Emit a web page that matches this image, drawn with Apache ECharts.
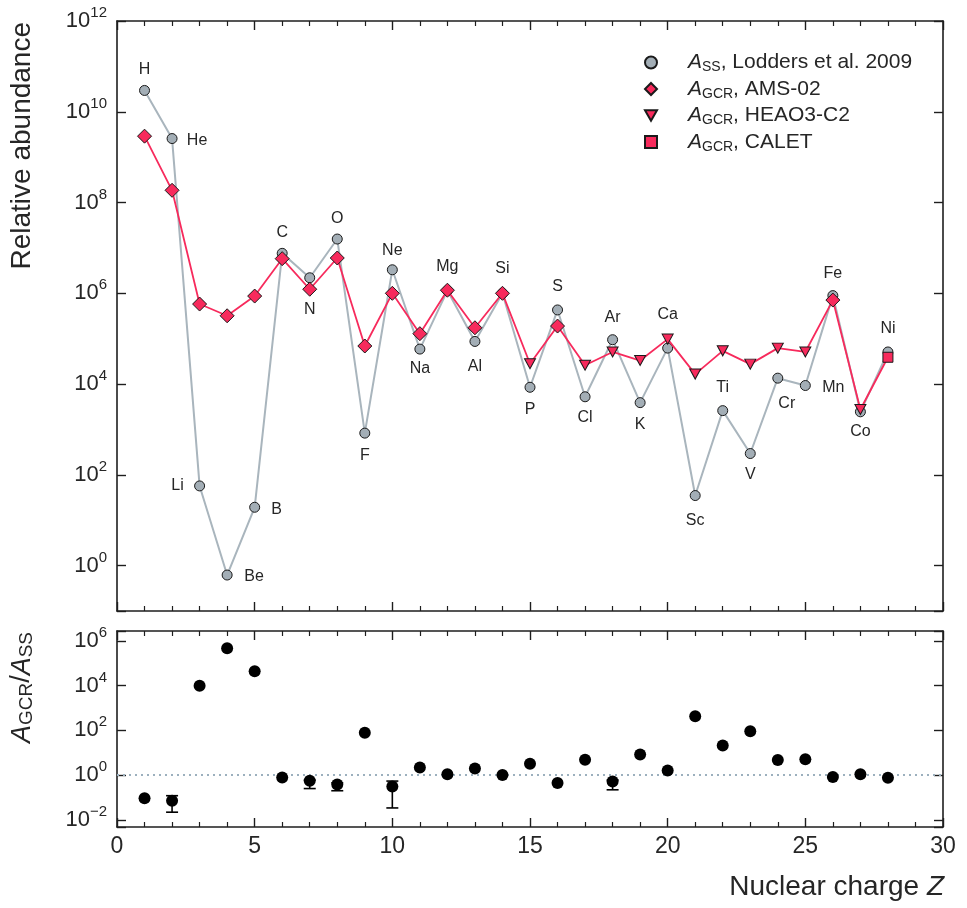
<!DOCTYPE html>
<html><head><meta charset="utf-8">
<script src="https://cdn.jsdelivr.net/npm/echarts@6/dist/echarts.min.js"></script>
<style>html,body{margin:0;padding:0;background:#fff}#c{width:967px;height:908px}</style>
</head><body><div id="c"></div><script>
// ---------------- data ----------------
const Z = [1,2,3,4,5,6,7,8,9,10,11,12,13,14,15,16,17,18,19,20,21,22,23,24,25,26,27,28];
const elements = ['H','He','Li','Be','B','C','N','O','F','Ne','Na','Mg','Al','Si','P','S','Cl','Ar','K','Ca','Sc','Ti','V','Cr','Mn','Fe','Co','Ni'];
// Solar-system abundances (Lodders et al. 2009), Si = 1e6
const ssAbundance = [2.95e10, 2.57e9, 57, 0.62, 19.3, 7.6e6, 2.2e6, 1.57e7, 830, 3.3e6, 5.9e4, 1.15e6, 8.7e4, 1.0e6,
  8.5e3, 4.3e5, 5.25e3, 9.5e4, 3.9e3, 6.2e4, 35, 2.6e3, 295, 1.35e4, 9.3e3, 8.9e5, 2.45e3, 5.1e4];
// Galactic cosmic ray abundances
const gcrAbundance = [2.9e9, 1.86e8, 5.8e5, 3.2e5, 8.7e5, 5.8e6, 1.23e6, 6.0e6, 6.9e4, 1.0e6, 1.29e5, 1.17e6, 1.74e5, 1.0e6,
  2.8e4, 1.9e5, 2.6e4, 5.1e4, 3.3e4, 9.8e4, 1.66e4, 5.4e4, 2.75e4, 6.2e4, 5.1e4, 7.1e5, 2.75e3, 3.9e4];
const amsZ = [1,2,3,4,5,6,7,8,9,10,11,12,13,14,16,26];
const heaoZ = [15,17,18,19,20,21,22,23,24,25,27];
const caletZ = [28];
// Ratio A_GCR / A_SS
const ratio = [0.093, 0.071, 9800, 4.7e5, 4.4e4, 0.78, 0.56, 0.38, 79, 0.31, 2.2, 1.1, 1.95, 1.0,
  3.2, 0.44, 4.8, 0.52, 8.3, 1.6, 430, 21, 91, 4.7, 5.1, 0.83, 1.1, 0.76];
const errZ = [2, 7, 8, 10, 18];
const errLow = [0.022, 0.25, 0.20, 0.034, 0.22];
const errHigh = [0.12, 0.6, 0.45, 0.54, 0.6];

// ---------------- style ----------------
const FONT = 'Liberation Sans, Arial, sans-serif';
const TXT = '#262626';
const AX = '#1e1e1e';
const GRAY = '#a3aeb6';
const GRAY_LINE = '#a9b5bd';
const RED = '#f72a5c';
const labelOffsets = [[0,-21],[25,2],[-22,0],[27,2],[22,2],[0,-21],[0,32],[0,-20],[0,22],[0,-19],[0,20],[0,-24],[0,25],[0,-25],
  [0,22],[0,-23],[0,21],[0,-22],[0,22],[0,-34],[0,25],[0,-23],[0,21],[9,25],[28,2],[0,-22],[0,20],[0,-23]];
const TRI_DOWN = 'path://M0,0 L10,0 L5,8.66 Z';

const SS_NAME = 'A_SS, Lodders et al. 2009';
const AMS_NAME = 'A_GCR, AMS-02';
const HEAO_NAME = 'A_GCR, HEAO3-C2';
const CALET_NAME = 'A_GCR, CALET';

function expLabel(v) {
  const l = Math.log10(v); const e = Math.round(l);
  if (Math.abs(l - e) > 1e-6 || e % 2 !== 0) return '';
  return '{b|10}{s|' + (e < 0 ? '\u2212' + (-e) : e) + '}';
}
const labelRich = {
  b: {fontSize: 22, fontFamily: FONT, color: TXT},
  s: {fontSize: 15, fontFamily: FONT, color: TXT, padding: [0,0,16,0]}
};
const lineSt = {color: AX, width: 1.6};
function xAx(grid, pos, labels) {
  return {type: 'value', gridIndex: grid, position: pos, min: 0, max: 30, interval: 5,
    axisLine: {show: true, onZero: false, lineStyle: lineSt},
    axisTick: {show: true, inside: true, length: 9, lineStyle: {color: AX, width: 1.4}},
    minorTick: {show: true, splitNumber: 5, length: 5, lineStyle: {color: AX, width: 1.2}},
    splitLine: {show: false}, minorSplitLine: {show: false},
    axisLabel: {show: labels, margin: 8, fontSize: 23, fontFamily: FONT, color: TXT}};
}
function yAx(grid, pos, min, max, labels) {
  return {type: 'log', logBase: 100, gridIndex: grid, position: pos, min: min, max: max,
    axisLine: {show: true, onZero: false, lineStyle: lineSt},
    axisTick: {show: true, inside: true, length: 9, lineStyle: {color: AX, width: 1.4}},
    minorTick: {show: false}, splitLine: {show: false},
    axisLabel: {show: labels, margin: 10, formatter: expLabel, rich: labelRich}};
}
function legendFmt(name) {
  const i = name.indexOf(',');
  const sub = name.slice(2, i);
  return '{i|A}{u|' + sub + '}{t|' + name.slice(i) + '}';
}
function renderErr(params, api) {
  const x = api.value(0);
  const lo = api.coord([x, api.value(1)]);
  const hi = api.coord([x, api.value(2)]);
  const hw = 6;
  const st = {stroke: '#000', lineWidth: 1.6};
  return {type: 'group', children: [
    {type: 'line', shape: {x1: lo[0], y1: lo[1], x2: hi[0], y2: hi[1]}, style: st},
    {type: 'line', shape: {x1: lo[0]-hw, y1: lo[1], x2: lo[0]+hw, y2: lo[1]}, style: st},
    {type: 'line', shape: {x1: hi[0]-hw, y1: hi[1], x2: hi[0]+hw, y2: hi[1]}, style: st}
  ]};
}

const chart = echarts.init(document.getElementById('c'));
chart.setOption({
  animation: false,
  backgroundColor: '#fff',
  textStyle: {fontFamily: FONT},
  grid: [
    {left: 117, right: 24, top: 21, height: 590},
    {left: 117, right: 24, top: 631, height: 196}
  ],
  xAxis: [xAx(0, 'bottom', false), xAx(0, 'top', false), xAx(1, 'bottom', true), xAx(1, 'top', false)],
  yAxis: [
    yAx(0, 'left', 0.1, 1e12, true), yAx(0, 'right', 0.1, 1e12, false),
    yAx(1, 'left', Math.pow(10, -2.32), Math.pow(10, 6.44), true), yAx(1, 'right', Math.pow(10, -2.32), Math.pow(10, 6.44), false)
  ],
  legend: {
    data: [{name: SS_NAME, icon: 'circle'}, {name: AMS_NAME}, {name: HEAO_NAME, icon: TRI_DOWN}, {name: CALET_NAME}],
    orient: 'vertical', left: 644, top: 52, itemWidth: 12, itemHeight: 12, itemGap: 4, padding: 0,
    selectedMode: false, formatter: legendFmt,
    textStyle: {color: TXT, fontFamily: FONT, fontSize: 21, padding: [0,0,0,26],
      rich: {
        i: {fontSize: 21, fontStyle: 'italic', fontFamily: FONT, color: TXT},
        u: {fontSize: 14, fontFamily: FONT, color: TXT, padding: [10,0,0,0]},
        t: {fontSize: 21, fontFamily: FONT, color: TXT}
      }}
  },
  graphic: [
    {type: 'text', x: 22, y: 22, rotation: Math.PI / 2,
      style: {text: 'Relative abundance', fontSize: 28, fontFamily: FONT, fill: TXT, align: 'right', textAlign: 'right', verticalAlign: 'middle', textVerticalAlign: 'middle'}},
    {type: 'text', x: 22, y: 632, rotation: Math.PI / 2,
      style: {text: '{a|A}{s|GCR}{n|/}{a|A}{s|SS}', fill: TXT, align: 'right', textAlign: 'right', verticalAlign: 'middle', textVerticalAlign: 'middle',
        rich: {a: {fontSize: 27, fontStyle: 'italic', fontFamily: FONT, color: TXT},
               n: {fontSize: 27, fontFamily: FONT, color: TXT},
               s: {fontSize: 19, fontFamily: FONT, color: TXT, padding: [10,0,0,0]}}}},
    {type: 'text', x: 944, y: 887,
      style: {text: '{t|Nuclear charge }{i|Z}', fill: TXT, align: 'right', textAlign: 'right', verticalAlign: 'middle', textVerticalAlign: 'middle',
        rich: {t: {fontSize: 28, fontFamily: FONT, color: TXT}, i: {fontSize: 28, fontStyle: 'italic', fontFamily: FONT, color: TXT}}}}
  ],
  series: [
    {name: 'ssLine', type: 'line', xAxisIndex: 0, yAxisIndex: 0, symbol: 'none', silent: true, z: 2,
      data: Z.map((z, i) => [z, ssAbundance[i]]), lineStyle: {color: GRAY_LINE, width: 2}},
    {name: SS_NAME, type: 'scatter', xAxisIndex: 0, yAxisIndex: 0, symbol: 'circle', symbolSize: 10, z: 3,
      data: Z.map((z, i) => ({value: [z, ssAbundance[i]], label: {offset: labelOffsets[i]}})),
      itemStyle: {color: GRAY, borderColor: '#1a1a1a', borderWidth: 1, opacity: 1},
      label: {show: true, position: 'inside', formatter: p => elements[p.dataIndex], fontSize: 16, fontFamily: FONT, color: TXT}},
    {name: 'gcrLine', type: 'line', xAxisIndex: 0, yAxisIndex: 0, symbol: 'none', silent: true, z: 4,
      data: Z.map((z, i) => [z, gcrAbundance[i]]), lineStyle: {color: RED, width: 1.8}},
    {name: AMS_NAME, type: 'scatter', xAxisIndex: 0, yAxisIndex: 0, symbol: 'diamond', symbolSize: 14, z: 5,
      data: amsZ.map(z => [z, gcrAbundance[z - 1]]),
      itemStyle: {color: RED, borderColor: '#1a1a1a', borderWidth: 1, opacity: 1}},
    {name: HEAO_NAME, type: 'scatter', xAxisIndex: 0, yAxisIndex: 0, symbol: TRI_DOWN, symbolSize: [11, 10], z: 5,
      data: heaoZ.map(z => [z, gcrAbundance[z - 1]]),
      itemStyle: {color: RED, borderColor: '#1a1a1a', borderWidth: 1, opacity: 1}},
    {name: CALET_NAME, type: 'scatter', xAxisIndex: 0, yAxisIndex: 0, symbol: 'rect', symbolSize: 10, z: 5,
      data: caletZ.map(z => [z, gcrAbundance[z - 1]]),
      itemStyle: {color: RED, borderColor: '#1a1a1a', borderWidth: 1, opacity: 1}},
    {name: 'err', type: 'custom', xAxisIndex: 2, yAxisIndex: 2, z: 4, silent: true,
      data: errZ.map((z, i) => [z, errLow[i], errHigh[i]]), encode: {x: 0, y: [1, 2]}, renderItem: renderErr},
    {name: 'ratio', type: 'scatter', xAxisIndex: 2, yAxisIndex: 2, symbol: 'circle', symbolSize: 12, z: 5,
      data: Z.map((z, i) => [z, ratio[i]]), itemStyle: {color: '#000', opacity: 1},
      markLine: {silent: true, symbol: ['none', 'none'], label: {show: false}, z: 3,
        lineStyle: {color: '#9cb0be', width: 2, type: [2, 4]}, data: [{yAxis: 1}]}}
  ]
});
</script></body></html>
